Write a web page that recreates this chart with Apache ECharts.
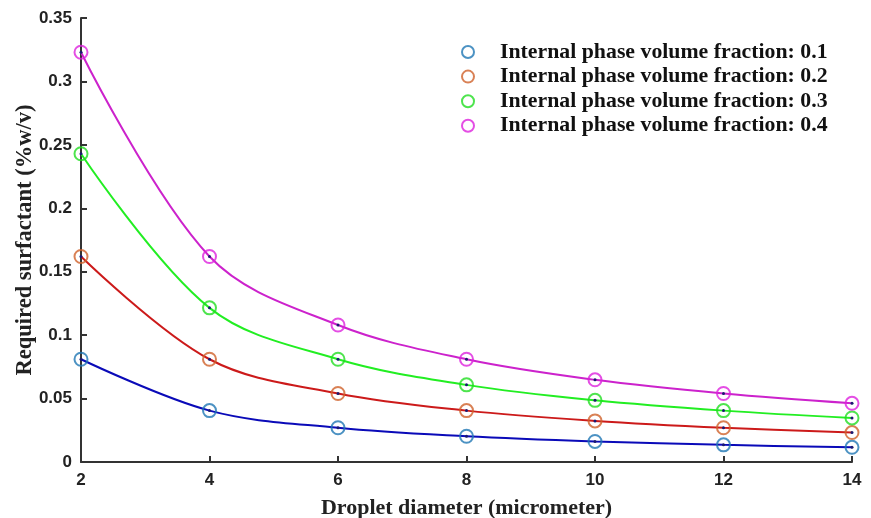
<!DOCTYPE html>
<html>
<head>
<meta charset="utf-8">
<script src="https://cdn.jsdelivr.net/npm/echarts@6/dist/echarts.min.js"></script>
<style>
    html, body { margin: 0; padding: 0; background: #fff; }
    #chart { width: 871px; height: 518px; }
</style>
</head>
<body>
<div id="chart"></div>
<script>

    // 液滴直径 (micrometer)
    var diameters = [2, 4, 6, 8, 10, 12, 14];

    // 各内相体积分数对应的表面活性剂用量
    var fraction01 = [0.081, 0.0405, 0.027, 0.0203, 0.0162, 0.0135, 0.0116];
    var fraction02 = [0.162, 0.081, 0.054, 0.0405, 0.0324, 0.027, 0.0232];
    var fraction03 = [0.243, 0.1215, 0.081, 0.0608, 0.0486, 0.0405, 0.0347];
    var fraction04 = [0.323, 0.162, 0.108, 0.081, 0.0648, 0.054, 0.0463];

    var seriesNames = [
        'Internal phase volume fraction: 0.1',
        'Internal phase volume fraction: 0.2',
        'Internal phase volume fraction: 0.3',
        'Internal phase volume fraction: 0.4'
    ];
    var seriesValues = [fraction01, fraction02, fraction03, fraction04];

    var markerColors = ['#1f77b4', '#d0622a', '#22dd22', '#dd22dd'];
    var curveColors = ['#0a0ab8', '#cc1a1a', '#22ee22', '#cc22cc'];

    var chart = echarts.init(document.getElementById('chart'));

    function pairs(values) {
        return diameters.map(function (d, i) {
            return [d, values[i]];
        });
    }

    var series = [];

    // 拟合曲线
    seriesValues.forEach(function (values, i) {
        series.push({
            name: 'fit' + i,
            type: 'line',
            data: pairs(values),
            smooth: 0.35,
            showSymbol: true,
            symbol: 'circle',
            symbolSize: 3,
            itemStyle: {color: '#1a1a70'},
            lineStyle: {color: curveColors[i], width: 2},
            z: 2,
            silent: true
        });
    });

    // 数据点
    seriesValues.forEach(function (values, i) {
        series.push({
            name: seriesNames[i],
            type: 'scatter',
            data: pairs(values),
            symbol: 'circle',
            symbolSize: 13,
            itemStyle: {
                color: 'rgba(255,255,255,0)',
                borderColor: markerColors[i],
                borderWidth: 2
            },
            z: 3
        });
    });

    var legendData = seriesNames.map(function (name, i) {
        return {
            name: name,
            icon: 'circle',
            itemStyle: {
                color: '#fff',
                borderColor: markerColors[i],
                borderWidth: 2
            }
        };
    });

    var tickFont = {
        color: '#222',
        fontFamily: 'Liberation Sans',
        fontWeight: 'bold',
        fontSize: 17
    };
    var nameFont = {
        color: '#222',
        fontFamily: 'Liberation Serif',
        fontWeight: 'bold',
        fontSize: 22
    };

    var option = {
        animation: false,
        backgroundColor: '#fff',
        grid: {left: 81, right: 19, top: 18, bottom: 56, outerBoundsMode: 'none'},
        legend: {
            data: legendData,
            orient: 'vertical',
            left: 456,
            top: 36,
            itemGap: 2.6,
            itemWidth: 12,
            itemHeight: 12,
            textStyle: {
                color: '#111',
                fontFamily: 'Liberation Serif',
                fontWeight: 'bold',
                fontSize: 21.8,
                lineHeight: 20,
                padding: [0, 0, 0, 21]
            }
        },
        xAxis: {
            type: 'value',
            min: 2,
            max: 14,
            interval: 2,
            name: 'Droplet diameter (micrometer)',
            nameLocation: 'middle',
            nameGap: 35,
            nameMoveOverlap: false,
            nameTextStyle: nameFont,
            axisLine: {lineStyle: {color: '#333', width: 2}},
            axisTick: {inside: true, length: 6, lineStyle: {color: '#333', width: 2}},
            axisLabel: Object.assign({margin: 10}, tickFont),
            splitLine: {show: false}
        },
        yAxis: {
            type: 'value',
            min: 0,
            max: 0.35,
            interval: 0.05,
            name: 'Required surfactant (%w/v)',
            nameLocation: 'middle',
            nameGap: 44,
            nameMoveOverlap: false,
            nameTextStyle: Object.assign({}, nameFont, {fontSize: 22.5}),
            axisLine: {show: true, lineStyle: {color: '#333', width: 2}},
            axisTick: {show: true, inside: true, length: 6, lineStyle: {color: '#333', width: 2}},
            axisLabel: Object.assign({margin: 9}, tickFont),
            splitLine: {show: false}
        },
        series: series
    };

    chart.setOption(option);

</script>
</body>
</html>
